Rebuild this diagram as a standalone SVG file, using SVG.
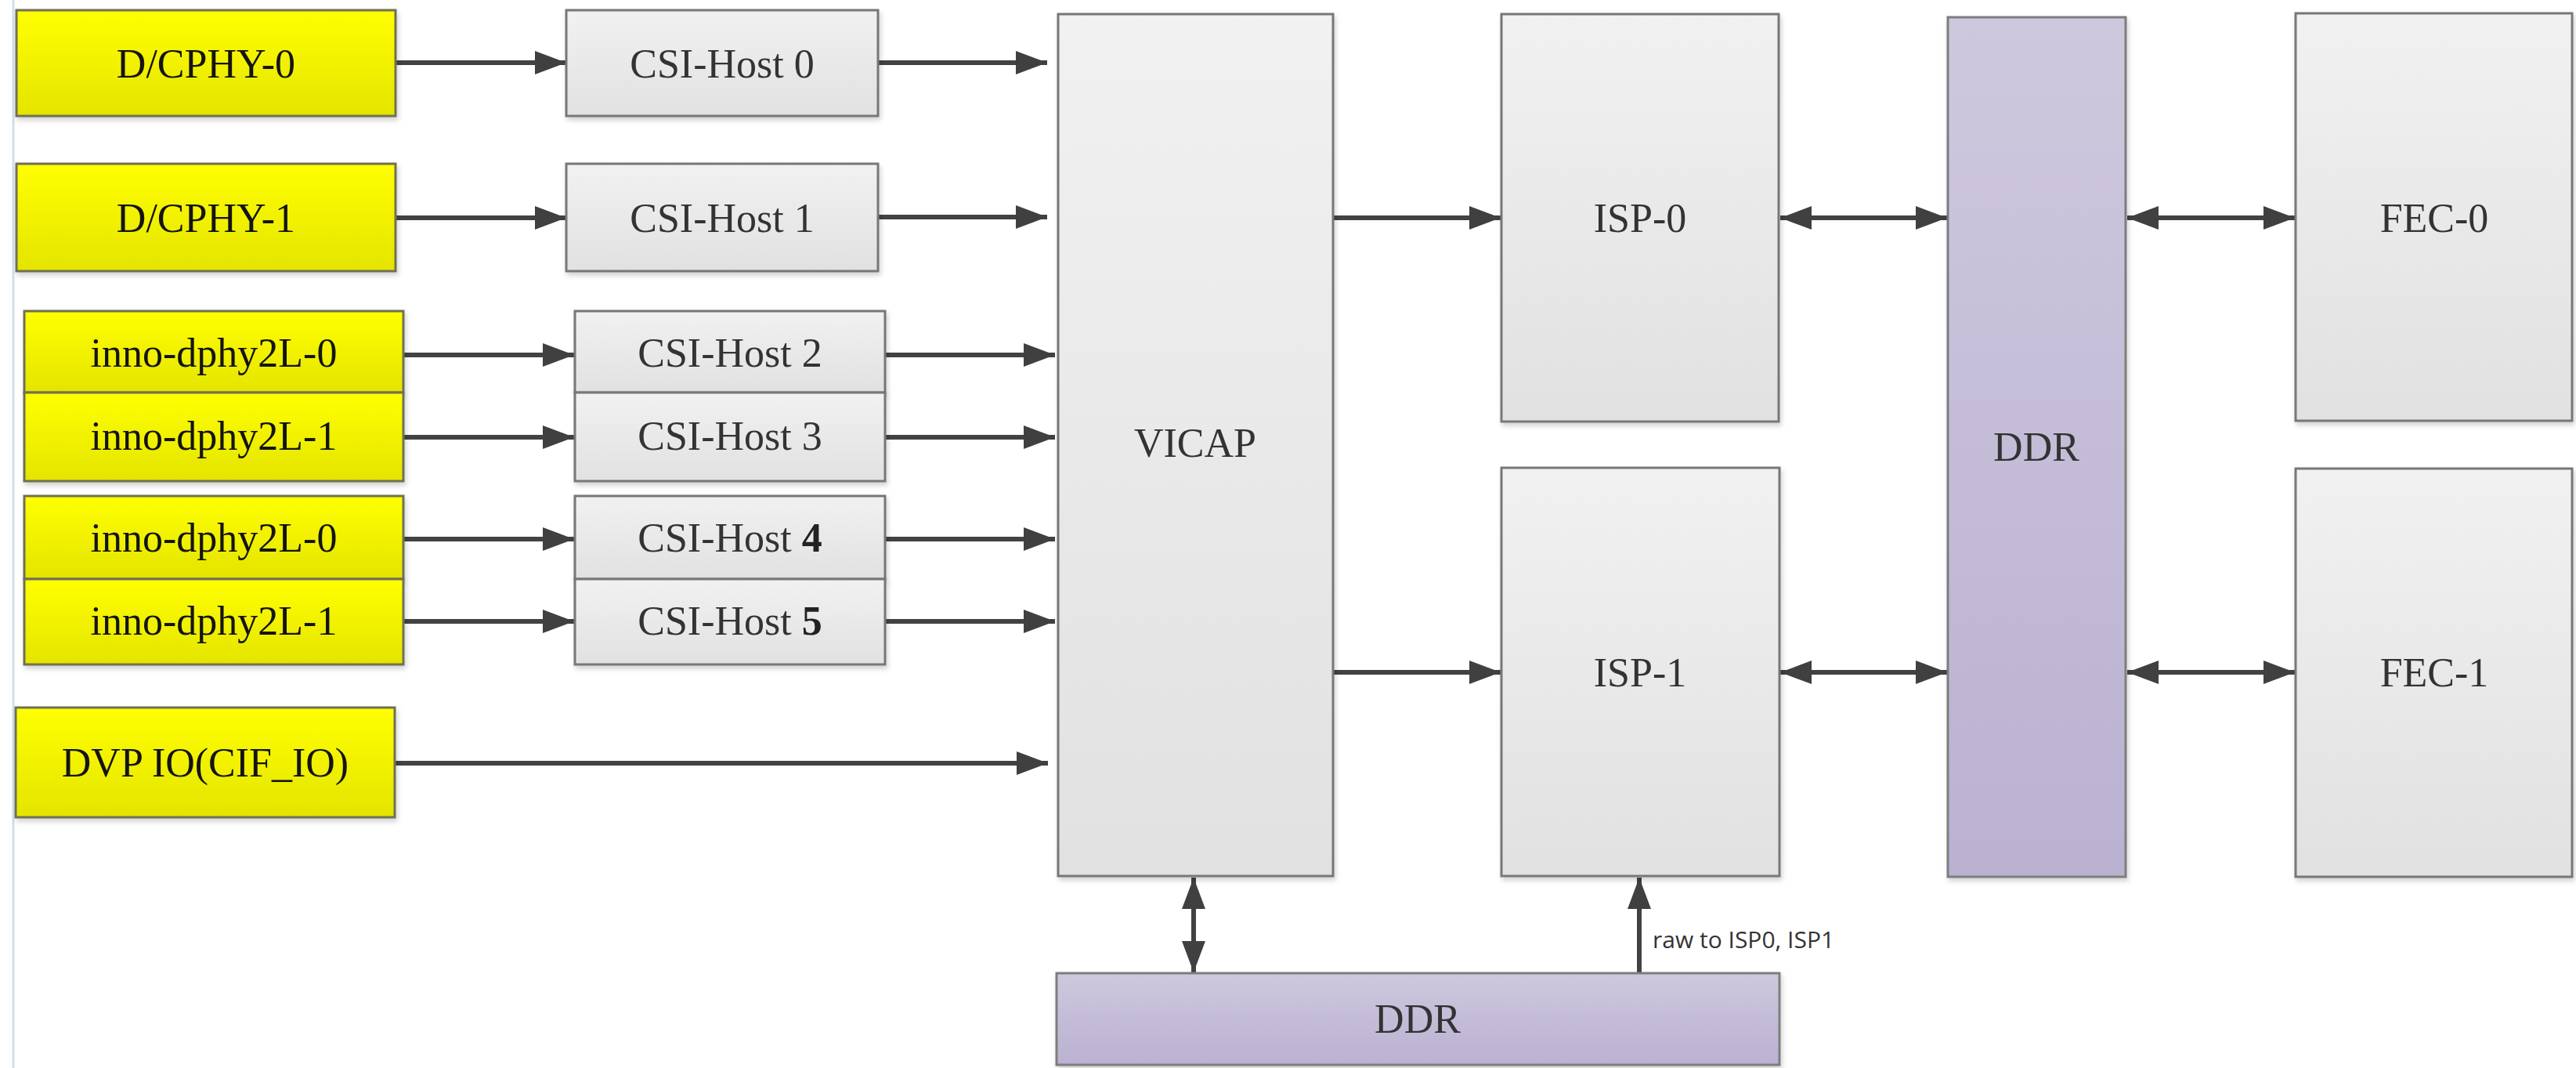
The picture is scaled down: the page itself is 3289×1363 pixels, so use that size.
<svg xmlns="http://www.w3.org/2000/svg" width="3289" height="1363" viewBox="0 0 3289 1363">
  <style>
    .lbl { font-family: "Liberation Serif", "Times New Roman", serif; font-size: 52px; text-anchor: middle; }
    .dark { fill: #141414; }
    .grey { fill: #333333; }
    .phy { fill: url(#gYellow); stroke: #6f6f55; stroke-width: 3; filter: url(#shadow); }
    .blk { fill: url(#gGrey); stroke: #777777; stroke-width: 3; filter: url(#shadow); }
    .mem { fill: url(#gPurple); stroke: #7d7d7d; stroke-width: 3; filter: url(#shadow); }
    .wire { stroke: #424242; stroke-width: 6; fill: none; }
    .note { font-family: "Open Sans", "Liberation Sans", sans-serif; font-size: 30px; fill: #333333; }
  </style>
  <defs>
    <linearGradient id="gYellow" x1="0" y1="0" x2="0" y2="1">
      <stop offset="0" stop-color="#ffff00"/>
      <stop offset="1" stop-color="#e4e400"/>
    </linearGradient>
    <linearGradient id="gGrey" x1="0" y1="0" x2="0" y2="1">
      <stop offset="0" stop-color="#f1f1f1"/>
      <stop offset="1" stop-color="#e1e1e1"/>
    </linearGradient>
    <linearGradient id="gPurple" x1="0" y1="0" x2="0" y2="1">
      <stop offset="0" stop-color="#cec8de"/>
      <stop offset="1" stop-color="#bbb1d1"/>
    </linearGradient>
    <filter id="shadow" x="-5%" y="-5%" width="115%" height="115%">
      <feDropShadow dx="2" dy="4" stdDeviation="3" flood-color="#000000" flood-opacity="0.18"/>
    </filter>
    <marker id="head" markerUnits="userSpaceOnUse" markerWidth="42" markerHeight="32" refX="40" refY="15" orient="auto-start-reverse">
      <path d="M0,0 L40,15 L0,30 Z" fill="#404040"/>
    </marker>
  </defs>

  <rect width="3289" height="1363" fill="#ffffff"/>
  <!-- page edge rule -->
  <line x1="17" y1="0" x2="17" y2="1363" stroke="#d3deec" stroke-width="3"/>

  <!-- connectors -->
  <g id="connectors">
    <line class="wire" x1="505" y1="80" x2="723" y2="80" marker-end="url(#head)"/>
    <line class="wire" x1="505" y1="278" x2="723" y2="278" marker-end="url(#head)"/>
    <line class="wire" x1="515" y1="453" x2="733" y2="453" marker-end="url(#head)"/>
    <line class="wire" x1="515" y1="558" x2="733" y2="558" marker-end="url(#head)"/>
    <line class="wire" x1="515" y1="688" x2="733" y2="688" marker-end="url(#head)"/>
    <line class="wire" x1="515" y1="793" x2="733" y2="793" marker-end="url(#head)"/>

    <line class="wire" x1="1121" y1="80" x2="1337" y2="80" marker-end="url(#head)"/>
    <line class="wire" x1="1121" y1="277" x2="1337" y2="277" marker-end="url(#head)"/>
    <line class="wire" x1="1130" y1="453" x2="1347" y2="453" marker-end="url(#head)"/>
    <line class="wire" x1="1130" y1="558" x2="1347" y2="558" marker-end="url(#head)"/>
    <line class="wire" x1="1130" y1="688" x2="1347" y2="688" marker-end="url(#head)"/>
    <line class="wire" x1="1130" y1="793" x2="1347" y2="793" marker-end="url(#head)"/>
    <line class="wire" x1="504" y1="974" x2="1338" y2="974" marker-end="url(#head)"/>

    <line class="wire" x1="1702" y1="278" x2="1916" y2="278" marker-end="url(#head)"/>
    <line class="wire" x1="1702" y1="858" x2="1916" y2="858" marker-end="url(#head)"/>

    <line class="wire" x1="2273" y1="278" x2="2486" y2="278" marker-start="url(#head)" marker-end="url(#head)"/>
    <line class="wire" x1="2273" y1="858" x2="2486" y2="858" marker-start="url(#head)" marker-end="url(#head)"/>
    <line class="wire" x1="2716" y1="278" x2="2930" y2="278" marker-start="url(#head)" marker-end="url(#head)"/>
    <line class="wire" x1="2716" y1="858" x2="2930" y2="858" marker-start="url(#head)" marker-end="url(#head)"/>

    <line class="wire" x1="1524" y1="1120" x2="1524" y2="1241" marker-start="url(#head)" marker-end="url(#head)"/>
    <line class="wire" x1="2093" y1="1242" x2="2093" y2="1120" marker-end="url(#head)"/>
    <text class="note" x="2110" y="1210">raw to ISP0, ISP1</text>
  </g>

  <!-- PHY inputs -->
  <g id="dcphy0">
    <rect class="phy" x="21" y="13" width="484" height="135"/>
    <text class="lbl dark" x="263" y="99">D/CPHY-0</text>
  </g>
  <g id="dcphy1">
    <rect class="phy" x="21" y="209" width="484" height="137"/>
    <text class="lbl dark" x="263" y="296">D/CPHY-1</text>
  </g>
  <g id="inno-a0">
    <rect class="phy" x="31" y="397" width="484" height="104"/>
    <text class="lbl dark" x="273" y="468">inno-dphy2L-0</text>
  </g>
  <g id="inno-a1">
    <rect class="phy" x="31" y="501" width="484" height="113"/>
    <text class="lbl dark" x="273" y="574">inno-dphy2L-1</text>
  </g>
  <g id="inno-b0">
    <rect class="phy" x="31" y="633" width="484" height="106"/>
    <text class="lbl dark" x="273" y="704">inno-dphy2L-0</text>
  </g>
  <g id="inno-b1">
    <rect class="phy" x="31" y="739" width="484" height="109"/>
    <text class="lbl dark" x="273" y="810">inno-dphy2L-1</text>
  </g>
  <g id="dvp">
    <rect class="phy" x="20" y="903" width="484" height="140"/>
    <text class="lbl dark" x="262" y="991">DVP IO(CIF_IO)</text>
  </g>

  <!-- CSI hosts -->
  <g id="csi0">
    <rect class="blk" x="723" y="13" width="398" height="135"/>
    <text class="lbl grey" x="922" y="99">CSI-Host 0</text>
  </g>
  <g id="csi1">
    <rect class="blk" x="723" y="209" width="398" height="137"/>
    <text class="lbl grey" x="922" y="296">CSI-Host 1</text>
  </g>
  <g id="csi2">
    <rect class="blk" x="734" y="397" width="396" height="104"/>
    <text class="lbl grey" x="932" y="468">CSI-Host 2</text>
  </g>
  <g id="csi3">
    <rect class="blk" x="734" y="501" width="396" height="113"/>
    <text class="lbl grey" x="932" y="574">CSI-Host 3</text>
  </g>
  <g id="csi4">
    <rect class="blk" x="734" y="633" width="396" height="106"/>
    <text class="lbl grey" x="932" y="704">CSI-Host <tspan font-weight="bold" fill="#222">4</tspan></text>
  </g>
  <g id="csi5">
    <rect class="blk" x="734" y="739" width="396" height="109"/>
    <text class="lbl grey" x="932" y="810">CSI-Host <tspan font-weight="bold" fill="#222">5</tspan></text>
  </g>

  <!-- capture, ISP, memory, FEC -->
  <g id="vicap">
    <rect class="blk" x="1351" y="18" width="351" height="1100"/>
    <text class="lbl grey" x="1526" y="583">VICAP</text>
  </g>
  <g id="isp0">
    <rect class="blk" x="1917" y="18" width="354" height="520"/>
    <text class="lbl grey" x="2094" y="296">ISP-0</text>
  </g>
  <g id="isp1">
    <rect class="blk" x="1917" y="597" width="355" height="521"/>
    <text class="lbl grey" x="2094" y="876">ISP-1</text>
  </g>
  <g id="ddr-main">
    <rect class="mem" x="2487" y="22" width="227" height="1097"/>
    <text class="lbl grey" x="2600" y="588">DDR</text>
  </g>
  <g id="fec0">
    <rect class="blk" x="2931" y="17" width="353" height="520"/>
    <text class="lbl grey" x="3108" y="296">FEC-0</text>
  </g>
  <g id="fec1">
    <rect class="blk" x="2931" y="598" width="353" height="521"/>
    <text class="lbl grey" x="3108" y="876">FEC-1</text>
  </g>
  <g id="ddr-raw">
    <rect class="mem" x="1349" y="1242" width="923" height="117"/>
    <text class="lbl grey" x="1810" y="1318">DDR</text>
  </g>
</svg>
